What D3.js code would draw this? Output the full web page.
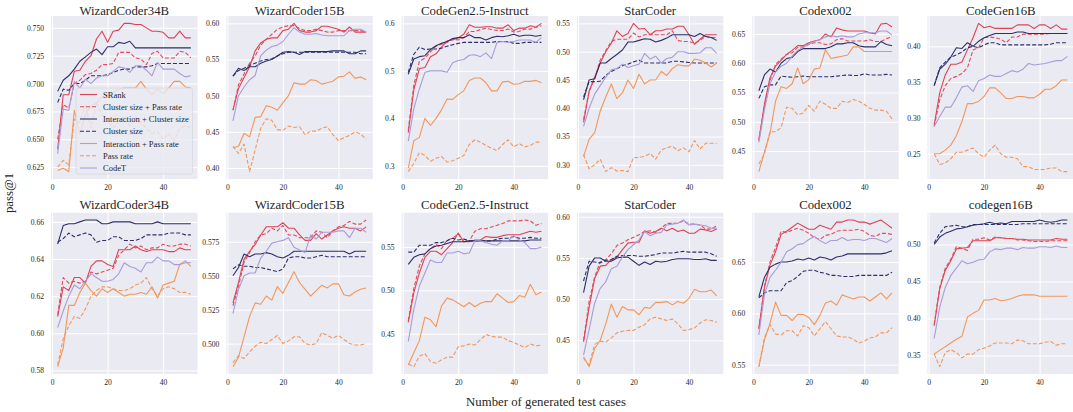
<!DOCTYPE html>
<html>
<head>
<meta charset="utf-8">
<script src="https://cdn.jsdelivr.net/npm/d3@7"></script>
<style>
  body { margin: 0; background: #fff; }
  svg { display: block; }
  text { font-family: "Liberation Serif", "DejaVu Serif", serif; fill: #262626; }
</style>
</head>
<body>
<svg id="chart" width="1073" height="412"></svg>
<script>
// number of generated test cases (x values)
const steps = [2, 4, 6, 8, 10, 12, 14, 16, 18, 20, 22, 24, 26, 28, 30, 32, 34, 36, 38, 40, 42, 44, 46, 48, 50];

const seriesNames = ["SRank", "Cluster size + Pass rate", "Interaction + Cluster size",
    "Cluster size", "Interaction + Pass rate", "Pass rate", "CodeT"];

const topModels = ["WizardCoder34B", "WizardCoder15B", "CodeGen2.5-Instruct", "StarCoder", "Codex002", "CodeGen16B"];
const bottomModels = ["WizardCoder34B", "WizardCoder15B", "CodeGen2.5-Instruct", "StarCoder", "Codex002", "codegen16B"];

// pass@1 per panel, rows in the order of seriesNames
const wc34Top = [
    [0.641,0.690,0.690,0.711,0.712,0.720,0.725,0.740,0.747,0.737,0.747,0.748,0.754,0.754,0.753,0.753,0.750,0.747,0.747,0.746,0.741,0.741,0.747,0.741,0.741],
    [0.650,0.681,0.678,0.700,0.703,0.708,0.709,0.712,0.717,0.717,0.718,0.728,0.728,0.728,0.723,0.722,0.717,0.727,0.729,0.723,0.723,0.723,0.729,0.728,0.723],
    [0.693,0.703,0.707,0.713,0.720,0.724,0.728,0.731,0.726,0.733,0.733,0.737,0.736,0.738,0.732,0.732,0.732,0.732,0.732,0.732,0.732,0.732,0.732,0.732,0.732],
    [0.683,0.695,0.694,0.700,0.700,0.703,0.707,0.707,0.707,0.708,0.710,0.712,0.713,0.713,0.715,0.715,0.715,0.716,0.718,0.718,0.718,0.718,0.718,0.718,0.718],
    [0.622,0.624,0.621,0.676,0.655,0.672,0.680,0.683,0.688,0.690,0.692,0.695,0.696,0.696,0.696,0.702,0.695,0.690,0.695,0.691,0.696,0.702,0.702,0.697,0.696],
    [0.625,0.631,0.627,0.668,0.665,0.681,0.660,0.683,0.672,0.667,0.660,0.667,0.670,0.662,0.670,0.665,0.660,0.655,0.657,0.650,0.655,0.649,0.660,0.662,0.660],
    [0.637,0.677,0.676,0.702,0.696,0.704,0.700,0.705,0.707,0.707,0.711,0.715,0.714,0.710,0.716,0.716,0.712,0.707,0.719,0.713,0.713,0.713,0.709,0.706,0.707]
];
const wc15Top = [
    [0.480,0.510,0.525,0.540,0.562,0.573,0.578,0.580,0.580,0.590,0.592,0.600,0.590,0.588,0.588,0.590,0.596,0.596,0.594,0.592,0.588,0.595,0.588,0.588,0.588],
    [0.480,0.515,0.530,0.545,0.555,0.570,0.578,0.585,0.592,0.595,0.597,0.597,0.593,0.590,0.590,0.592,0.590,0.588,0.588,0.590,0.590,0.590,0.590,0.590,0.588],
    [0.527,0.538,0.535,0.540,0.540,0.545,0.548,0.550,0.555,0.560,0.561,0.560,0.557,0.561,0.561,0.561,0.561,0.561,0.562,0.562,0.562,0.558,0.558,0.562,0.562],
    [0.527,0.535,0.538,0.542,0.545,0.548,0.550,0.551,0.555,0.558,0.560,0.560,0.560,0.560,0.560,0.560,0.560,0.560,0.560,0.560,0.560,0.560,0.560,0.558,0.558],
    [0.428,0.430,0.448,0.443,0.470,0.471,0.486,0.484,0.480,0.490,0.500,0.518,0.516,0.516,0.522,0.521,0.516,0.518,0.520,0.526,0.527,0.533,0.524,0.526,0.522],
    [0.430,0.420,0.433,0.395,0.425,0.455,0.468,0.466,0.453,0.452,0.458,0.456,0.457,0.446,0.451,0.451,0.455,0.457,0.446,0.438,0.442,0.445,0.450,0.447,0.440],
    [0.465,0.500,0.512,0.522,0.528,0.555,0.563,0.568,0.570,0.575,0.585,0.594,0.588,0.585,0.585,0.586,0.584,0.583,0.583,0.583,0.583,0.590,0.592,0.592,0.588]
];
const cg25Top = [
    [0.370,0.460,0.505,0.507,0.530,0.536,0.550,0.563,0.565,0.570,0.577,0.597,0.592,0.592,0.593,0.593,0.590,0.590,0.597,0.585,0.590,0.590,0.595,0.592,0.600],
    [0.375,0.470,0.520,0.527,0.540,0.552,0.556,0.560,0.567,0.565,0.570,0.583,0.583,0.587,0.590,0.587,0.585,0.585,0.588,0.582,0.583,0.588,0.588,0.592,0.595],
    [0.493,0.525,0.530,0.532,0.545,0.553,0.558,0.562,0.568,0.570,0.570,0.576,0.570,0.570,0.565,0.570,0.573,0.572,0.574,0.577,0.573,0.575,0.575,0.573,0.575],
    [0.497,0.535,0.550,0.545,0.546,0.546,0.548,0.552,0.555,0.558,0.560,0.560,0.560,0.560,0.560,0.560,0.562,0.562,0.562,0.558,0.558,0.560,0.560,0.560,0.560],
    [0.295,0.353,0.360,0.400,0.385,0.400,0.418,0.441,0.440,0.450,0.458,0.480,0.485,0.485,0.475,0.458,0.458,0.477,0.478,0.472,0.473,0.478,0.478,0.480,0.475],
    [0.288,0.305,0.328,0.322,0.310,0.316,0.320,0.308,0.311,0.316,0.322,0.345,0.355,0.350,0.343,0.337,0.332,0.345,0.355,0.340,0.347,0.340,0.343,0.350,0.350],
    [0.352,0.420,0.462,0.497,0.500,0.500,0.500,0.497,0.517,0.522,0.524,0.533,0.534,0.530,0.538,0.526,0.560,0.562,0.560,0.562,0.565,0.565,0.565,0.560,0.570]
];
const starTop = [
    [0.375,0.430,0.455,0.480,0.500,0.515,0.537,0.527,0.532,0.550,0.540,0.541,0.530,0.537,0.537,0.540,0.540,0.545,0.545,0.530,0.513,0.522,0.530,0.530,0.530],
    [0.380,0.430,0.452,0.485,0.502,0.518,0.522,0.522,0.522,0.533,0.526,0.530,0.530,0.530,0.530,0.530,0.537,0.520,0.518,0.518,0.515,0.520,0.527,0.525,0.525],
    [0.415,0.450,0.452,0.480,0.480,0.488,0.495,0.503,0.517,0.517,0.520,0.523,0.522,0.517,0.520,0.524,0.530,0.530,0.530,0.530,0.527,0.532,0.527,0.525,0.520],
    [0.420,0.447,0.447,0.448,0.458,0.465,0.470,0.475,0.478,0.482,0.485,0.480,0.480,0.480,0.480,0.480,0.483,0.483,0.482,0.481,0.480,0.480,0.480,0.480,0.480],
    [0.315,0.345,0.357,0.395,0.420,0.443,0.417,0.427,0.450,0.435,0.460,0.443,0.450,0.450,0.465,0.458,0.470,0.477,0.475,0.475,0.487,0.485,0.480,0.473,0.480],
    [0.318,0.293,0.300,0.310,0.288,0.295,0.289,0.290,0.288,0.313,0.313,0.315,0.320,0.310,0.326,0.330,0.333,0.325,0.330,0.323,0.343,0.328,0.338,0.338,0.338],
    [0.368,0.400,0.425,0.440,0.455,0.468,0.470,0.478,0.472,0.475,0.478,0.497,0.487,0.492,0.480,0.488,0.490,0.500,0.500,0.497,0.497,0.498,0.507,0.507,0.497]
];
const codexTop = [
    [0.468,0.530,0.575,0.595,0.605,0.615,0.622,0.630,0.630,0.635,0.638,0.640,0.650,0.645,0.660,0.657,0.655,0.655,0.655,0.655,0.652,0.650,0.667,0.668,0.662],
    [0.470,0.525,0.570,0.598,0.607,0.615,0.618,0.627,0.628,0.632,0.635,0.635,0.632,0.633,0.640,0.642,0.638,0.638,0.638,0.638,0.640,0.637,0.637,0.642,0.645],
    [0.553,0.580,0.590,0.585,0.600,0.608,0.610,0.620,0.625,0.625,0.625,0.625,0.625,0.628,0.633,0.633,0.635,0.635,0.630,0.628,0.628,0.628,0.637,0.632,0.630],
    [0.540,0.560,0.563,0.563,0.578,0.577,0.576,0.577,0.578,0.577,0.577,0.577,0.577,0.577,0.578,0.579,0.580,0.579,0.579,0.582,0.580,0.580,0.580,0.581,0.580],
    [0.415,0.448,0.480,0.535,0.560,0.557,0.565,0.592,0.565,0.572,0.590,0.592,0.623,0.608,0.610,0.612,0.614,0.628,0.628,0.620,0.620,0.620,0.620,0.620,0.620],
    [0.428,0.445,0.483,0.483,0.490,0.525,0.523,0.512,0.515,0.528,0.518,0.535,0.530,0.523,0.523,0.535,0.533,0.538,0.535,0.530,0.523,0.520,0.520,0.518,0.505],
    [0.465,0.520,0.565,0.585,0.595,0.600,0.612,0.622,0.627,0.633,0.637,0.640,0.645,0.647,0.645,0.647,0.645,0.645,0.650,0.652,0.652,0.652,0.655,0.655,0.648]
];
const cg16Top = [
    [0.290,0.335,0.360,0.375,0.375,0.378,0.395,0.412,0.432,0.426,0.428,0.425,0.425,0.425,0.425,0.430,0.430,0.430,0.425,0.430,0.430,0.425,0.430,0.424,0.424],
    [0.288,0.325,0.345,0.355,0.358,0.362,0.370,0.395,0.398,0.412,0.413,0.412,0.410,0.405,0.413,0.413,0.417,0.417,0.417,0.417,0.417,0.418,0.418,0.418,0.418],
    [0.345,0.368,0.375,0.385,0.398,0.397,0.405,0.400,0.407,0.412,0.415,0.418,0.418,0.418,0.418,0.420,0.420,0.418,0.418,0.418,0.418,0.418,0.418,0.418,0.418],
    [0.345,0.370,0.378,0.385,0.388,0.392,0.398,0.400,0.398,0.402,0.405,0.405,0.402,0.402,0.402,0.402,0.402,0.402,0.402,0.402,0.402,0.403,0.405,0.405,0.405],
    [0.250,0.250,0.255,0.262,0.275,0.295,0.320,0.320,0.323,0.330,0.342,0.342,0.335,0.327,0.327,0.330,0.330,0.328,0.328,0.333,0.340,0.340,0.345,0.353,0.353],
    [0.250,0.235,0.237,0.243,0.252,0.252,0.255,0.258,0.250,0.245,0.255,0.262,0.250,0.245,0.245,0.243,0.232,0.232,0.228,0.228,0.228,0.230,0.230,0.225,0.225],
    [0.288,0.302,0.315,0.315,0.328,0.343,0.345,0.337,0.352,0.355,0.360,0.358,0.358,0.362,0.366,0.364,0.368,0.376,0.374,0.375,0.376,0.378,0.380,0.380,0.386]
];
const wc34Bottom = [
    [0.609,0.625,0.623,0.630,0.630,0.627,0.636,0.639,0.639,0.637,0.636,0.645,0.645,0.645,0.647,0.645,0.644,0.645,0.645,0.645,0.644,0.644,0.646,0.645,0.645],
    [0.610,0.630,0.627,0.628,0.627,0.628,0.633,0.632,0.633,0.634,0.635,0.642,0.645,0.648,0.646,0.647,0.645,0.646,0.646,0.648,0.647,0.647,0.648,0.648,0.647],
    [0.648,0.658,0.659,0.659,0.660,0.661,0.661,0.661,0.659,0.659,0.660,0.660,0.660,0.660,0.659,0.659,0.659,0.659,0.660,0.659,0.659,0.659,0.659,0.659,0.659],
    [0.649,0.651,0.654,0.652,0.653,0.654,0.653,0.649,0.650,0.650,0.652,0.652,0.650,0.650,0.650,0.651,0.653,0.653,0.653,0.653,0.654,0.654,0.654,0.653,0.653],
    [0.582,0.592,0.615,0.615,0.622,0.627,0.623,0.620,0.624,0.622,0.624,0.622,0.620,0.621,0.621,0.622,0.621,0.625,0.619,0.626,0.627,0.628,0.637,0.639,0.636],
    [0.583,0.597,0.604,0.609,0.608,0.613,0.620,0.623,0.625,0.625,0.624,0.623,0.623,0.624,0.626,0.627,0.630,0.624,0.620,0.624,0.625,0.624,0.622,0.622,0.621],
    [0.603,0.612,0.620,0.626,0.624,0.628,0.632,0.630,0.628,0.628,0.629,0.632,0.638,0.636,0.635,0.633,0.638,0.638,0.641,0.639,0.639,0.637,0.637,0.638,0.638]
];
const wc15Bottom = [
    [0.530,0.545,0.562,0.568,0.573,0.580,0.586,0.586,0.586,0.589,0.585,0.585,0.580,0.576,0.576,0.581,0.577,0.580,0.583,0.585,0.586,0.585,0.585,0.583,0.586],
    [0.528,0.542,0.560,0.567,0.575,0.580,0.581,0.585,0.583,0.587,0.580,0.580,0.578,0.578,0.578,0.583,0.582,0.578,0.583,0.586,0.587,0.590,0.588,0.588,0.591],
    [0.550,0.556,0.566,0.564,0.566,0.566,0.567,0.566,0.564,0.563,0.565,0.568,0.568,0.568,0.568,0.568,0.568,0.568,0.568,0.568,0.568,0.566,0.568,0.568,0.568],
    [0.555,0.558,0.557,0.557,0.556,0.556,0.555,0.554,0.553,0.555,0.563,0.564,0.564,0.563,0.563,0.564,0.565,0.564,0.564,0.564,0.564,0.564,0.564,0.564,0.564],
    [0.483,0.490,0.505,0.520,0.530,0.529,0.535,0.532,0.542,0.537,0.545,0.553,0.545,0.540,0.535,0.539,0.543,0.541,0.544,0.544,0.536,0.535,0.538,0.540,0.541],
    [0.486,0.491,0.489,0.494,0.498,0.501,0.500,0.503,0.506,0.500,0.502,0.505,0.505,0.500,0.499,0.500,0.508,0.506,0.504,0.506,0.503,0.500,0.499,0.499,0.500],
    [0.522,0.540,0.550,0.552,0.552,0.563,0.568,0.574,0.575,0.576,0.578,0.571,0.569,0.567,0.580,0.577,0.582,0.582,0.582,0.583,0.583,0.578,0.585,0.585,0.582]
];
const cg25Bottom = [
    [0.463,0.497,0.520,0.538,0.545,0.545,0.541,0.548,0.555,0.566,0.556,0.556,0.558,0.558,0.562,0.561,0.561,0.563,0.564,0.564,0.564,0.566,0.568,0.567,0.568],
    [0.465,0.502,0.528,0.542,0.548,0.553,0.548,0.558,0.560,0.565,0.556,0.557,0.568,0.571,0.571,0.573,0.575,0.577,0.580,0.580,0.580,0.581,0.580,0.575,0.577],
    [0.530,0.538,0.541,0.542,0.548,0.551,0.552,0.554,0.556,0.556,0.556,0.557,0.557,0.557,0.557,0.557,0.557,0.557,0.557,0.557,0.557,0.557,0.558,0.558,0.558],
    [0.544,0.544,0.552,0.552,0.552,0.555,0.555,0.557,0.560,0.558,0.559,0.557,0.557,0.557,0.557,0.557,0.559,0.560,0.560,0.562,0.560,0.560,0.561,0.560,0.560],
    [0.414,0.428,0.442,0.469,0.466,0.458,0.482,0.491,0.489,0.485,0.481,0.486,0.481,0.485,0.487,0.487,0.496,0.491,0.486,0.487,0.494,0.492,0.507,0.495,0.498],
    [0.415,0.412,0.424,0.427,0.418,0.416,0.420,0.423,0.423,0.435,0.436,0.438,0.437,0.443,0.449,0.447,0.446,0.446,0.442,0.440,0.437,0.434,0.438,0.436,0.437],
    [0.441,0.478,0.505,0.520,0.535,0.532,0.532,0.543,0.543,0.545,0.542,0.543,0.557,0.557,0.555,0.553,0.552,0.557,0.557,0.563,0.558,0.555,0.548,0.548,0.550]
];
const starBottom = [
    [0.448,0.490,0.525,0.540,0.541,0.548,0.551,0.560,0.568,0.569,0.569,0.583,0.580,0.582,0.586,0.583,0.586,0.582,0.584,0.580,0.580,0.585,0.584,0.582,0.585],
    [0.450,0.497,0.527,0.545,0.548,0.555,0.565,0.568,0.572,0.575,0.578,0.582,0.583,0.581,0.586,0.592,0.592,0.592,0.595,0.591,0.591,0.590,0.585,0.585,0.589],
    [0.508,0.540,0.550,0.550,0.546,0.546,0.550,0.551,0.551,0.546,0.541,0.545,0.542,0.546,0.545,0.546,0.548,0.549,0.549,0.549,0.548,0.548,0.549,0.547,0.547],
    [0.522,0.546,0.545,0.544,0.547,0.548,0.552,0.553,0.553,0.553,0.552,0.552,0.553,0.554,0.556,0.556,0.556,0.557,0.558,0.557,0.557,0.557,0.557,0.555,0.552],
    [0.430,0.418,0.440,0.450,0.470,0.494,0.478,0.491,0.487,0.487,0.481,0.490,0.489,0.496,0.496,0.497,0.493,0.497,0.495,0.501,0.512,0.509,0.509,0.511,0.504],
    [0.428,0.420,0.445,0.449,0.448,0.453,0.459,0.461,0.462,0.462,0.466,0.469,0.476,0.478,0.476,0.474,0.476,0.470,0.462,0.463,0.465,0.471,0.475,0.474,0.472],
    [0.432,0.463,0.495,0.513,0.521,0.537,0.540,0.551,0.560,0.566,0.572,0.582,0.577,0.580,0.581,0.590,0.591,0.592,0.596,0.590,0.591,0.590,0.589,0.586,0.586]
];
const codexBottom = [
    [0.585,0.625,0.647,0.660,0.677,0.680,0.684,0.688,0.685,0.682,0.682,0.686,0.684,0.682,0.689,0.689,0.691,0.691,0.689,0.689,0.687,0.689,0.691,0.687,0.683],
    [0.585,0.626,0.650,0.664,0.680,0.679,0.681,0.683,0.681,0.678,0.674,0.672,0.676,0.677,0.680,0.681,0.681,0.681,0.682,0.680,0.676,0.675,0.678,0.678,0.677],
    [0.616,0.635,0.645,0.648,0.650,0.650,0.651,0.653,0.652,0.654,0.652,0.655,0.654,0.652,0.655,0.656,0.658,0.658,0.658,0.658,0.658,0.658,0.658,0.659,0.661],
    [0.615,0.620,0.622,0.622,0.622,0.630,0.632,0.636,0.641,0.642,0.642,0.640,0.639,0.637,0.637,0.636,0.636,0.636,0.637,0.637,0.637,0.637,0.637,0.637,0.640],
    [0.548,0.574,0.590,0.611,0.598,0.598,0.593,0.599,0.599,0.596,0.589,0.598,0.610,0.612,0.608,0.618,0.616,0.614,0.616,0.616,0.612,0.616,0.620,0.614,0.620],
    [0.548,0.576,0.589,0.580,0.579,0.583,0.583,0.578,0.588,0.586,0.578,0.585,0.592,0.585,0.578,0.577,0.577,0.575,0.571,0.573,0.576,0.577,0.581,0.581,0.586],
    [0.579,0.618,0.635,0.642,0.650,0.660,0.663,0.667,0.668,0.672,0.675,0.671,0.668,0.671,0.671,0.674,0.671,0.672,0.672,0.671,0.673,0.673,0.671,0.669,0.673]
];
const cg16Bottom = [
    [0.390,0.440,0.465,0.478,0.494,0.495,0.496,0.505,0.505,0.505,0.505,0.509,0.509,0.508,0.508,0.507,0.507,0.506,0.506,0.506,0.506,0.506,0.508,0.507,0.507],
    [0.392,0.442,0.468,0.480,0.497,0.495,0.492,0.507,0.507,0.509,0.506,0.510,0.509,0.508,0.508,0.506,0.506,0.505,0.504,0.504,0.504,0.505,0.505,0.505,0.505],
    [0.500,0.510,0.515,0.518,0.521,0.522,0.524,0.526,0.527,0.528,0.530,0.528,0.529,0.528,0.531,0.531,0.531,0.531,0.531,0.533,0.531,0.530,0.531,0.533,0.533],
    [0.502,0.515,0.524,0.525,0.526,0.524,0.524,0.527,0.527,0.527,0.527,0.527,0.527,0.527,0.527,0.527,0.528,0.528,0.528,0.528,0.528,0.528,0.528,0.528,0.528],
    [0.352,0.357,0.362,0.367,0.372,0.376,0.402,0.407,0.411,0.425,0.425,0.427,0.424,0.425,0.427,0.430,0.432,0.432,0.432,0.430,0.430,0.430,0.430,0.430,0.430],
    [0.352,0.335,0.354,0.358,0.354,0.347,0.352,0.352,0.358,0.360,0.363,0.367,0.367,0.367,0.366,0.371,0.370,0.366,0.366,0.366,0.368,0.369,0.364,0.366,0.366],
    [0.373,0.415,0.442,0.458,0.468,0.478,0.474,0.476,0.479,0.480,0.490,0.494,0.493,0.495,0.495,0.493,0.496,0.495,0.495,0.497,0.497,0.496,0.498,0.496,0.496]
];

// y tick values for each panel (top row then bottom row)
const yTicks = [
    [0.625, 0.650, 0.675, 0.700, 0.725, 0.750],
    [0.40, 0.45, 0.50, 0.55, 0.60],
    [0.3, 0.4, 0.5, 0.6],
    [0.30, 0.35, 0.40, 0.45, 0.50, 0.55],
    [0.45, 0.50, 0.55, 0.60, 0.65],
    [0.25, 0.30, 0.35, 0.40],
    [0.58, 0.60, 0.62, 0.64, 0.66],
    [0.500, 0.525, 0.550, 0.575],
    [0.45, 0.50, 0.55],
    [0.45, 0.50, 0.55, 0.60],
    [0.55, 0.60, 0.65],
    [0.35, 0.40, 0.45, 0.50]
];
const yFormats = [".3f", ".2f", ".1f", ".2f", ".2f", ".2f", ".2f", ".3f", ".2f", ".2f", ".2f", ".2f"];
const xTicks = [0, 20, 40];

// styles
const COLORS = ["#dc4354", "#e14b5b", "#2d2f69", "#2d2f69", "#f2975a", "#f2975a", "#a99bd9"];
const DASHED = [false, true, false, true, false, true, false];
const BG = "#eaeaf2";

// layout magic numbers
const LEFT0 = 51, STEP = 175.3, PW = 146.5;
const ROWS = [{top: 16, bottom: 179, title: 14.5}, {top: 212.7, bottom: 374, title: 208.5}];

const svg = d3.select("#chart");

const panels = [
    {title: topModels[0], data: wc34Top}, {title: topModels[1], data: wc15Top},
    {title: topModels[2], data: cg25Top}, {title: topModels[3], data: starTop},
    {title: topModels[4], data: codexTop}, {title: topModels[5], data: cg16Top},
    {title: bottomModels[0], data: wc34Bottom}, {title: bottomModels[1], data: wc15Bottom},
    {title: bottomModels[2], data: cg25Bottom}, {title: bottomModels[3], data: starBottom},
    {title: bottomModels[4], data: codexBottom}, {title: bottomModels[5], data: cg16Bottom}
];

panels.forEach(function(p, i){
    const row = ROWS[Math.floor(i / 6)];
    const col = i % 6;
    const x0 = LEFT0 + col * STEP;

    const x = d3.scaleLinear().domain([-0.4, 52.4]).range([x0, x0 + PW]);
    // matplotlib style autoscale: 5% margin around the data
    const all = p.data.flat();
    const lo = d3.min(all), hi = d3.max(all), pad = (hi - lo) * 0.05;
    const y = d3.scaleLinear().domain([lo - pad, hi + pad]).range([row.bottom, row.top]);

    const g = svg.append("g");

    g.append("rect")
        .attr("x", x0).attr("y", row.top)
        .attr("width", PW).attr("height", row.bottom - row.top)
        .attr("fill", BG);

    // grid
    g.append("g")
        .attr("transform", `translate(0, ${row.bottom})`)
        .call(d3.axisBottom(x).tickValues(xTicks).tickSize(-(row.bottom - row.top)).tickFormat(""))
        .call(a => a.select(".domain").remove())
        .call(a => a.selectAll("line").attr("stroke", "#fff").attr("stroke-width", 1));
    g.append("g")
        .attr("transform", `translate(${x0}, 0)`)
        .call(d3.axisLeft(y).tickValues(yTicks[i]).tickSize(-PW).tickFormat(""))
        .call(a => a.select(".domain").remove())
        .call(a => a.selectAll("line").attr("stroke", "#fff").attr("stroke-width", 1));

    // tick labels
    g.append("g")
        .attr("transform", `translate(0, ${row.bottom})`)
        .call(d3.axisBottom(x).tickValues(xTicks).tickSize(0).tickPadding(6).tickFormat(d3.format("d")))
        .call(a => a.select(".domain").remove())
        .call(a => a.selectAll("text").attr("font-size", 7.6).attr("fill", "#333")
            .attr("font-family", "Liberation Serif, DejaVu Serif, serif"));
    g.append("g")
        .attr("transform", `translate(${x0}, 0)`)
        .call(d3.axisLeft(y).tickValues(yTicks[i]).tickSize(0).tickPadding(7).tickFormat(d3.format(yFormats[i])))
        .call(a => a.select(".domain").remove())
        .call(a => a.selectAll("text").attr("font-size", 7.6).attr("fill", "#333")
            .attr("font-family", "Liberation Serif, DejaVu Serif, serif"));

    // lines
    const line = d3.line()
        .x((d, k) => x(steps[k]))
        .y(d => y(d));
    p.data.forEach(function(vals, s){
        g.append("path")
            .datum(vals)
            .attr("d", line)
            .attr("fill", "none")
            .attr("stroke", COLORS[s])
            .attr("stroke-width", 1.1)
            .attr("stroke-dasharray", DASHED[s] ? "4,2" : null)
            .attr("stroke-linejoin", "round");
    });

    g.append("text")
        .attr("x", x0 + PW / 2)
        .attr("y", row.title)
        .attr("text-anchor", "middle")
        .attr("font-size", 12.8)
        .text(p.title);

    // legend only in the first panel, lower right
    if (i === 0) {
        const lx = 76, ly = 88, lw = 116.5, lh = 86;
        const lg = g.append("g");
        lg.append("rect")
            .attr("x", lx).attr("y", ly).attr("width", lw).attr("height", lh)
            .attr("rx", 2)
            .attr("fill", BG).attr("fill-opacity", 0.8)
            .attr("stroke", "#d8d8e0").attr("stroke-width", 0.8);
        seriesNames.forEach(function(name, s){
            const yy = ly + 6.5 + s * 12.25;
            lg.append("line")
                .attr("x1", lx + 4).attr("x2", lx + 21)
                .attr("y1", yy).attr("y2", yy)
                .attr("stroke", COLORS[s]).attr("stroke-width", 1.1)
                .attr("stroke-dasharray", DASHED[s] ? "4,2" : null);
            lg.append("text")
                .attr("x", lx + 27).attr("y", yy + 3)
                .attr("font-size", 8.5)
                .text(name);
        });
    }
});

// shared axis labels
svg.append("text")
    .attr("x", 546).attr("y", 405.5)
    .attr("text-anchor", "middle")
    .attr("font-size", 12.8)
    .text("Number of generated test cases");

svg.append("text")
    .attr("transform", "translate(12.5, 193) rotate(-90)")
    .attr("text-anchor", "middle")
    .attr("font-size", 12.8)
    .text("pass@1");
</script>
</body>
</html>
